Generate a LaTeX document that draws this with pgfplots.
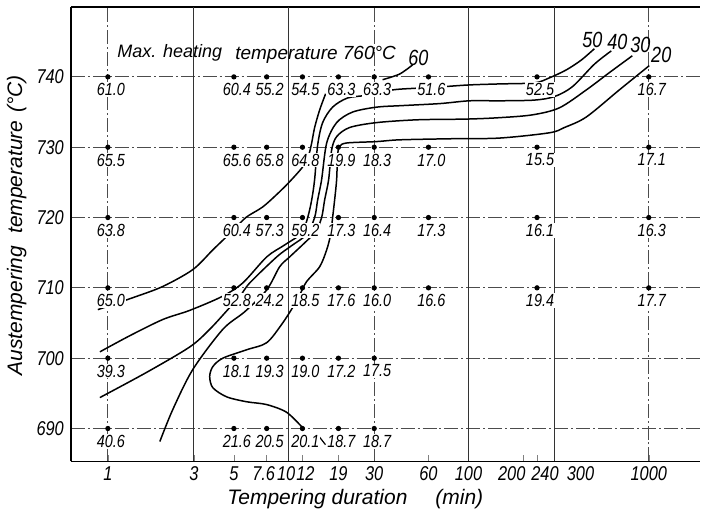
\documentclass[border=0pt]{standalone}
\usepackage{fontspec}
\setmainfont{Liberation Sans}
\newfontfamily\nar[FakeStretch=0.82]{Liberation Sans}
\usepackage{pgfplots}
\usepackage{pgfplotstable}
\pgfplotsset{compat=1.18}
\newcommand{\sh}[2]{\makebox[0pt][l]{\hspace*{#1}\makebox[0pt]{#2}}}
\pgfplotstableread{
x y lab
1 740 61.0
5 740 60.4
7.6 740 55.2
12 740 54.5
19 740 63.3
30 740 63.3
60 740 51.6
240 740 52.5
1000 740 16.7
1 730 65.5
5 730 65.6
7.6 730 65.8
12 730 64.8
19 730 19.9
30 730 18.3
60 730 17.0
240 730 15.5
1000 730 17.1
1 720 63.8
5 720 60.4
7.6 720 57.3
12 720 59.2
19 720 17.3
30 720 16.4
60 720 17.3
240 720 16.1
1000 720 16.3
1 710 65.0
5 710 52.8
7.6 710 24.2
12 710 18.5
19 710 17.6
30 710 16.0
60 710 16.6
240 710 19.4
1000 710 17.7
1 700 39.3
5 700 18.1
7.6 700 19.3
12 700 19.0
19 700 17.2
30 700 17.5
1 690 40.6
5 690 21.6
7.6 690 20.5
12 690 20.1
19 690 18.7
30 690 18.7
}\pts
\begin{document}
\begin{tikzpicture}
\begin{axis}[
  scale only axis, width=315pt, height=227.5pt,
  xmode=log, xmin=0.6237, xmax=1929, ymin=685.31, ymax=749.94,
  axis x line*=box, axis y line*=left,
  axis line style={-, line width=0.8pt},
  xtick={1,3,5,7.6,10,12,19,30,60,100,200,240,300,1000},
  xticklabels={1,3,5,\sh{-1.5pt}{7.6},\sh{-1pt}{10},\sh{1.5pt}{12},19,30,60,100,\sh{-5.5pt}{200},\sh{4pt}{240},\sh{13pt}{300},1000},
  xminorticks=false, xtick pos=bottom, xtick align=inside,
  major tick length=3pt,
  ytick={690,700,710,720,730,740}, ytick style={draw=none},
  ymajorgrids,
  major grid style={black!70, line width=0.4pt, dash pattern=on 7pt off 1.5pt on 1pt off 1.5pt},
  /pgf/number format/assume math mode=true,
  ticklabel style={font=\nar\itshape\fontsize{10}{11}\selectfont},
  x tick label style={yshift=1pt},
  xlabel={Tempering duration\hspace{14pt}(min)},
  ylabel={Austempering\hspace{6pt}temperature\hspace{4pt}(°C)},
  x label style={at={(axis description cs:0.452,-0.082)}, anchor=center, font=\itshape\fontsize{10.5}{12}\selectfont},
  y label style={at={(axis description cs:-0.086,0.52)}, anchor=center, font=\itshape\fontsize{10.5}{12}\selectfont},
  clip=false,
]
\draw[black!80, line width=0.5pt] (axis cs:3,685.31) -- (axis cs:3,749.94);
\draw[black!80, line width=0.5pt] (axis cs:10,685.31) -- (axis cs:10,749.94);
\draw[black!80, line width=0.5pt] (axis cs:100,685.31) -- (axis cs:100,749.94);
\draw[black!80, line width=0.5pt] (axis cs:300,685.31) -- (axis cs:300,749.94);
\draw[black!70, line width=0.4pt, dash pattern=on 7pt off 1.5pt on 1pt off 1.5pt] (axis cs:1,685.31) -- (axis cs:1,749.94);
\draw[black!70, line width=0.4pt, dash pattern=on 7pt off 1.5pt on 1pt off 1.5pt] (axis cs:30,685.31) -- (axis cs:30,749.94);
\draw[black!70, line width=0.4pt, dash pattern=on 7pt off 1.5pt on 1pt off 1.5pt] (axis cs:1000,685.31) -- (axis cs:1000,749.94);

\pgfplotsset{cline/.style={black, line width=0.75pt, smooth, tension=0.5, no marks}}
% 60
\addplot[cline] coordinates {(16.13,737.6) (14.95,735.3) (14.02,732.8) (13.50,730.6) (12.99,728.9) (12.03,727.2) (10.19,725.1) (8.74,723.4) (7.22,721.5) (5.89,720.1) (5.18,718.7) (4.56,717.3) (3.82,715.4) (2.96,712.6) (2.017,710.2) (1.375,708.6) (0.880,706.9)};
\addplot[cline] coordinates {(48.95,741.7) (41.47,740.4) (33.39,739.6)};
% 50
\addplot[cline] coordinates {(499,744.0) (422.7,742.4) (349.1,741.0) (281.0,739.86) (232.1,739.15) (148.5,739.0) (101.3,738.86) (71.8,738.6) (52.2,738.4) (37.93,738.15) (27.57,737.4) (21.36,737.0) (17.64,735.7) (15.53,733.5) (14.57,730.3) (14.02,725.4) (13.50,722.5) (12.83,720.0) (11.88,717.8) (9.56,716.1) (7.60,714.4) (5.60,710.7) (4.28,708.75) (2.846,706.8) (2.017,705.5) (1.324,703.2) (0.903,700.9)};
% 40
\addplot[cline] coordinates {(619.7,743.7) (499,741.8) (376.9,738.6) (299.6,737.2) (232.1,736.7) (148.5,736.6) (101.3,736.6) (69.07,736.2) (41.47,735.9) (30.93,735.7) (22.77,735.0) (18.57,733.5) (16.35,730.6) (15.33,725.4) (14.57,722.5) (14.02,720.0) (12.66,717.6) (10.45,716.0) (8.64,714.4) (6.12,710.7) (5.39,708.75) (4.74,707.2) (3.67,704.1) (2.846,701.6) (1.645,698.0) (0.903,694.4)};
% 30
\addplot[cline] coordinates {(810.3,743.0) (604.2,740.6) (450.6,738.15) (319.3,735.6) (226.2,734.6) (148.5,734.2) (97.5,734.0) (52.2,733.9) (30.93,733.5) (21.91,732.8) (18.57,731.5) (17.42,729.6) (16.77,725.4) (15.93,722.5) (15.33,720.0) (14.20,718.0) (12.34,716.4) (10.19,714.4) (8.97,713.0) (7.60,709.7) (5.74,706.6) (4.34,704.1) (2.96,698.4) (2.291,692.7) (1.942,688.15)};
% 20
\addplot[cline] coordinates {(1006.5,741.6) (686.7,738.15) (450.6,734.3) (340.4,732.8) (281.0,732.05) (148.5,731.3) (78.5,731.2) (41.47,731.05) (30.93,730.8) (21.09,730.6) (19.29,730.1) (18.81,728.9) (18.57,725.4) (18.10,722.5) (17.64,720.0) (17.20,717.6) (16.35,715.4) (14.95,713.0) (12.66,710.9) (11.58,709.0) (10.59,707.2) (9.20,704.8) (7.60,702.2) (5.89,701.2) (4.34,700.0) (3.82,698.8) (3.67,697.4) (3.82,695.8) (4.56,694.5) (5.89,693.8) (7.60,693.4) (9.81,692.3) (12.03,690.1)};
\addplot[black, line width=0.6pt, no marks] coordinates {(14.7,689.0) (16.1,687.7)};

\addplot[only marks, mark=*, mark size=1.1pt, black,
  nodes near coords, point meta=explicit symbolic,
  every node near coord/.append style={anchor=north, yshift=-2.6pt, xshift=1.5pt,
    font=\nar\itshape\fontsize{8.8}{9}\selectfont, fill=white, inner sep=0.5pt}]
  table[x=x, y=y, meta=lab] {\pts};

\node[font=\itshape\fontsize{9}{10}\selectfont] at (axis cs:2.205,743.4) {Max. heating};
\node[font=\itshape\fontsize{9.5}{10}\selectfont] at (axis cs:14.2,743.1) {temperature 760°C};
\node[font=\nar\itshape\fontsize{11}{12}\selectfont] at (axis cs:52.8,742.7) {60};
\node[font=\nar\itshape\fontsize{11}{12}\selectfont] at (axis cs:486.5,745.3) {50};
\node[font=\nar\itshape\fontsize{11}{12}\selectfont] at (axis cs:669.3,745.0) {40};
\node[font=\nar\itshape\fontsize{11}{12}\selectfont] at (axis cs:897.4,744.6) {30};
\node[font=\nar\itshape\fontsize{11}{12}\selectfont] at (axis cs:1173,743.1) {20};
\end{axis}
\path (current axis.south west) ++(-35.5pt,-25pt) rectangle ++(350.5pt,256pt);
\end{tikzpicture}
\end{document}
